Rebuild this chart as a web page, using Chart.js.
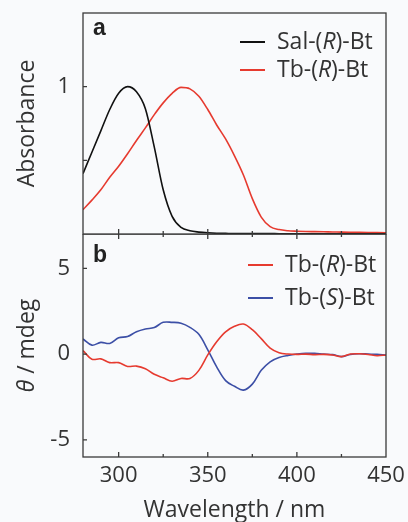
<!DOCTYPE html>
<html>
<head>
<meta charset="utf-8">
<script src="https://cdn.jsdelivr.net/npm/chart.js@4.4.0/dist/chart.umd.min.js"></script>
<style>
body { margin: 0; background: #f9fafc; width: 408px; height: 522px; overflow: hidden; position: relative; }
canvas { position: absolute; left: 0; }
#absChart { top: 0; }
#cdChart { top: 234px; }
</style>
</head>
<body>
<canvas id="absChart" width="408" height="240"></canvas>
<canvas id="cdChart" width="408" height="288"></canvas>
<script>
// wavelength grid (nm), shared by both panels
var wavelength = [280, 285, 290, 295, 300, 305, 310, 315, 320, 325, 330, 335, 340, 345, 350, 355, 360,
    365, 370, 375, 380, 385, 390, 395, 400, 405, 410, 415, 420, 425, 430, 435, 440, 445, 450];

// (a) normalised absorbance
var salRAbs = [0.41, 0.555, 0.70, 0.845, 0.955, 1.0, 0.965, 0.85, 0.59, 0.30, 0.12, 0.045, 0.022, 0.013, 0.008, 0.005, 0.004,
    0.003, 0.003, 0.003, 0.003, 0.003, 0.002, 0.002, 0.002, 0.002, 0.002, 0.002, 0.002, 0.002, 0.002, 0.002, 0.002, 0.002, 0.002];
var tbRAbs = [0.165, 0.23, 0.30, 0.385, 0.46, 0.545, 0.635, 0.72, 0.81, 0.89, 0.955, 0.995, 0.985, 0.935, 0.845, 0.74, 0.645,
    0.53, 0.40, 0.24, 0.115, 0.05, 0.03, 0.022, 0.019, 0.017, 0.016, 0.015, 0.014, 0.013, 0.012, 0.011, 0.010, 0.009, 0.008];

// (b) CD signal, mdeg
var tbRCd = [0.2, -0.3, -0.28, -0.5, -0.5, -0.72, -0.7, -0.85, -1.18, -1.38, -1.58, -1.42, -1.42, -0.95, -0.05, 0.72, 1.3,
    1.62, 1.75, 1.42, 0.9, 0.35, 0.08, 0.0, -0.02, 0.0, -0.03, -0.02, -0.05, -0.15, 0.0, 0.02, -0.02, -0.1, -0.05];
var tbSCd = [0.88, 0.52, 0.68, 0.62, 0.95, 1.02, 1.3, 1.46, 1.55, 1.85, 1.85, 1.8, 1.56, 1.15, 0.25, -0.75, -1.55,
    -1.88, -2.1, -1.75, -0.95, -0.45, -0.2, -0.08, 0.0, 0.05, 0.04, 0.0, -0.03, -0.15, -0.02, 0.02, 0.0, -0.02, -0.05];

// ticks
var wlTicks = [300, 325, 350, 375, 400, 425, 450];
var wlLabels = [300, 350, 400, 450];
var absTicks = [0.5, 1];
var absLabels = [1];
var cdTicks = [-5, 0, 5];

var FONT = "'Open Sans', sans-serif";
var INK = '#333333';
var RED = '#e63a2f';
var BLUE = '#3c4fa6';

function pts(xs, ys) {
    return xs.map(function(x, i) { return { x: x, y: ys[i] }; });
}

// draws [text, italic] pieces one after another
function drawSegs(ctx, segs, x, y, size, align) {
    var w = 0;
    segs.forEach(function(s) {
        ctx.font = (s[1] ? 'italic ' : '') + size + 'px ' + FONT;
        w += ctx.measureText(s[0]).width;
    });
    var cx = align === 'center' ? x - w / 2 : x;
    ctx.textAlign = 'left';
    segs.forEach(function(s) {
        ctx.font = (s[1] ? 'italic ' : '') + size + 'px ' + FONT;
        ctx.fillText(s[0], cx, y);
        cx += ctx.measureText(s[0]).width;
    });
}

// 'Tb-(R)-Bt' -> the letter in brackets goes italic
function labelSegs(label) {
    var segs = [];
    label.split(/\((\w)\)/).forEach(function(s, i) {
        if (i % 2) segs.push(['(', false], [s, true], [')', false]);
        else if (s) segs.push([s, false]);
    });
    return segs;
}

// frame, inward ticks, panel letter, legend
var panelDecor = {
    id: 'panelDecor',
    afterDraw: function(chart, args, o) {
        var ctx = chart.ctx, a = chart.chartArea, x = chart.scales.x, y = chart.scales.y;
        ctx.save();
        ctx.strokeStyle = '#3a3a3a';
        ctx.lineWidth = 1.3;
        ctx.strokeRect(a.left, a.top, a.right - a.left, a.bottom - a.top);

        ctx.beginPath();
        o.xTicks.forEach(function(v) {
            if (v <= x.min || v >= x.max) return;
            var px = x.getPixelForValue(v);
            var len = o.xMajor.indexOf(v) >= 0 ? 5 : 3;
            ctx.moveTo(px, a.bottom + (o.crossTicks ? len : 0));
            ctx.lineTo(px, a.bottom - len);
        });
        o.yTicks.forEach(function(v) {
            var py = y.getPixelForValue(v);
            ctx.moveTo(a.left, py);
            ctx.lineTo(a.left + 4, py);
        });
        ctx.stroke();

        ctx.fillStyle = '#222222';
        ctx.font = 'bold 23px "Liberation Sans", Arial, sans-serif';
        ctx.textAlign = 'left';
        ctx.textBaseline = 'alphabetic';
        ctx.fillText(o.tag, a.left + 10, a.top + o.tagY);

        ctx.textBaseline = 'middle';
        chart.data.datasets.forEach(function(ds, i) {
            var ly = a.top + o.legendY + i * o.legendStep;
            ctx.strokeStyle = ds.borderColor;
            ctx.lineWidth = 2;
            ctx.beginPath();
            ctx.moveTo(o.legendX, ly);
            ctx.lineTo(o.legendX + 25, ly);
            ctx.stroke();
            ctx.fillStyle = INK;
            drawSegs(ctx, labelSegs(ds.label), o.legendX + 37, ly, 23, 'left');
        });

        if (o.yTitle) {
            ctx.translate(27, (a.top + a.bottom) / 2);
            ctx.rotate(-Math.PI / 2);
            ctx.fillStyle = INK;
            drawSegs(ctx, o.yTitle, 0, 0, 23, 'center');
        }
        ctx.restore();
    }
};

function noPad(s) {
    s.paddingTop = 0; s.paddingBottom = 0; s.paddingLeft = 0; s.paddingRight = 0;
}

var tickFont = { family: FONT, size: 22 };

// (a) absorbance
new Chart(document.getElementById('absChart'), {
    type: 'line',
    data: {
        datasets: [
            { label: 'Sal-(R)-Bt', data: pts(wavelength, salRAbs), borderColor: '#111111' },
            { label: 'Tb-(R)-Bt', data: pts(wavelength, tbRAbs), borderColor: RED }
        ]
    },
    options: {
        responsive: false,
        animation: false,
        layout: { padding: { top: 13, right: 22, bottom: 6, left: 14 } },
        elements: { point: { radius: 0 }, line: { borderWidth: 1.6, cubicInterpolationMode: 'monotone' } },
        plugins: {
            legend: { display: false },
            tooltip: { enabled: false },
            panelDecor: {
                tag: 'a', tagY: 22, legendX: 240, legendY: 29, legendStep: 28,
                xTicks: wlTicks, xMajor: wlLabels, yTicks: absTicks, crossTicks: true
            }
        },
        scales: {
            x: { type: 'linear', display: false, min: 280, max: 450 },
            y: {
                min: 0, max: 1.5,
                afterBuildTicks: function(s) { s.ticks = absTicks.map(function(v) { return { value: v }; }); },
                afterFit: function(s) { s.width = 69; noPad(s); },
                grid: { display: false, drawTicks: false },
                border: { display: false },
                ticks: {
                    padding: 13, color: INK, font: tickFont,
                    callback: function(v) { return absLabels.indexOf(v) >= 0 ? v : ''; }
                },
                title: { display: true, text: 'Absorbance', color: INK, font: { family: FONT, size: 23 }, padding: { top: 0, bottom: 0 } }
            }
        }
    },
    plugins: [panelDecor]
});

// (b) circular dichroism
new Chart(document.getElementById('cdChart'), {
    type: 'line',
    data: {
        datasets: [
            { label: 'Tb-(R)-Bt', data: pts(wavelength, tbRCd), borderColor: RED },
            { label: 'Tb-(S)-Bt', data: pts(wavelength, tbSCd), borderColor: BLUE }
        ]
    },
    options: {
        responsive: false,
        animation: false,
        layout: { padding: { top: 0, right: 22, bottom: 0, left: 14 } },
        elements: { point: { radius: 0 }, line: { borderWidth: 1.6, tension: 0.35 } },
        plugins: {
            legend: { display: false },
            tooltip: { enabled: false },
            panelDecor: {
                tag: 'b', tagY: 28, legendX: 248, legendY: 31, legendStep: 33,
                xTicks: wlTicks, xMajor: wlLabels, yTicks: cdTicks, crossTicks: false,
                yTitle: [['θ', true], [' / mdeg', false]]
            }
        },
        scales: {
            x: {
                type: 'linear', min: 280, max: 450,
                afterBuildTicks: function(s) { s.ticks = wlTicks.map(function(v) { return { value: v }; }); },
                afterFit: function(s) { s.height = 65; noPad(s); },
                grid: { display: false, drawTicks: false },
                border: { display: false },
                ticks: {
                    padding: 6, color: INK, font: tickFont, autoSkip: false, maxRotation: 0,
                    callback: function(v) { return wlLabels.indexOf(v) >= 0 ? v : ''; }
                },
                title: { display: true, text: 'Wavelength / nm', color: INK, font: { family: FONT, size: 23, lineHeight: 1 }, padding: { top: 0, bottom: 0 } }
            },
            y: {
                min: -6, max: 7,
                afterBuildTicks: function(s) { s.ticks = cdTicks.map(function(v) { return { value: v }; }); },
                afterFit: function(s) { s.width = 69; noPad(s); },
                grid: { display: false, drawTicks: false },
                border: { display: false },
                ticks: { padding: 13, color: INK, font: tickFont }
            }
        }
    },
    plugins: [panelDecor]
});
</script>
</body>
</html>
